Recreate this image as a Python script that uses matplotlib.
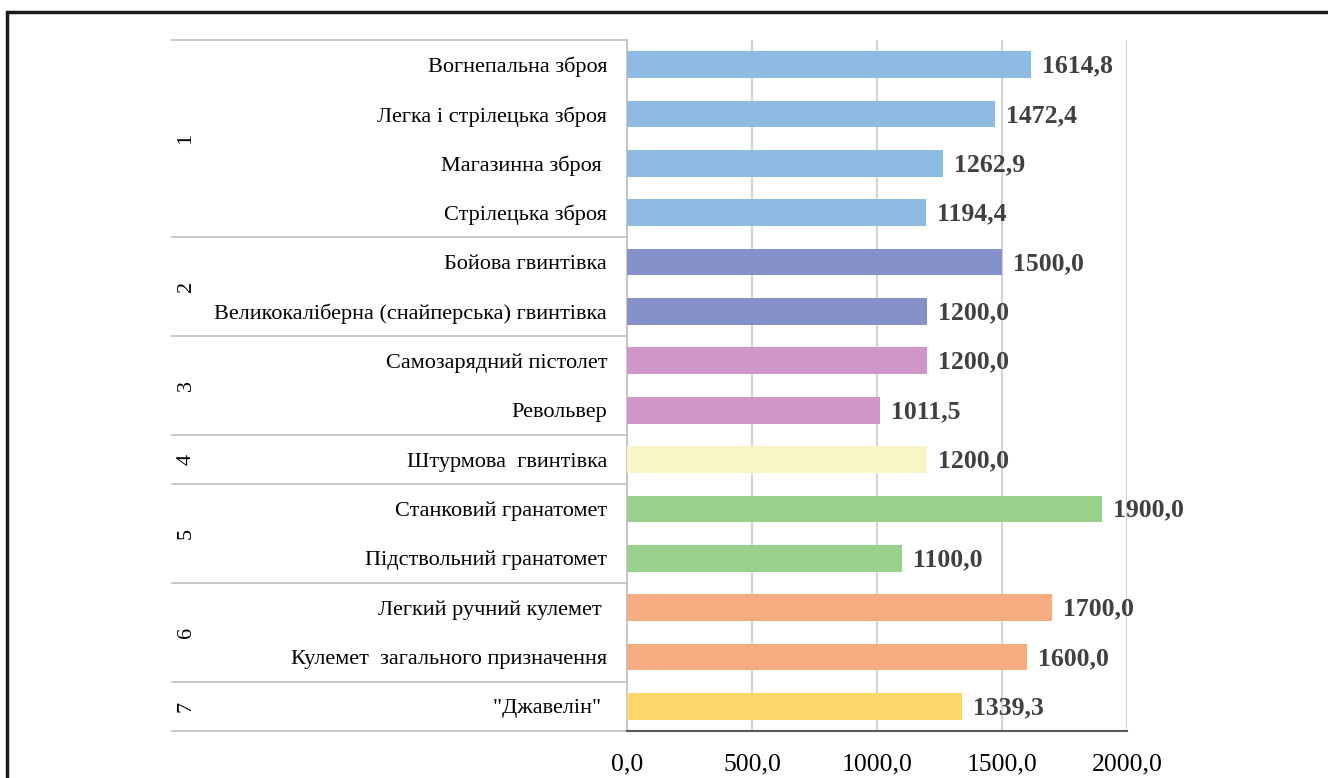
import matplotlib
matplotlib.use("Agg")
import matplotlib.pyplot as plt
import matplotlib.transforms as mtransforms
from matplotlib.patches import Rectangle


# =========================
# DATA
# =========================
labels = [
    "Вогнепальна зброя",
    "Легка і стрілецька зброя",
    "Магазинна зброя ",
    "Стрілецька зброя",
    "Бойова гвинтівка",
    "Великокаліберна (снайперська) гвинтівка",
    "Самозарядний пістолет",
    "Револьвер",
    "Штурмова  гвинтівка",
    "Станковий гранатомет",
    "Підствольний гранатомет",
    "Легкий ручний кулемет ",
    "Кулемет  загального призначення",
    "\"Джавелін\" ",
]
values = [1614.8, 1472.4, 1262.9, 1194.4, 1500.0, 1200.0, 1200.0,
          1011.5, 1200.0, 1900.0, 1100.0, 1700.0, 1600.0, 1339.3]
groups = ["1", "2", "3", "4", "5", "6", "7"]
group_sizes = [4, 2, 2, 1, 2, 2, 1]
group_colors = ["#8DBBE2", "#8591C8", "#CF96C8", "#F8F5C6",
                "#99D08B", "#F4AD80", "#FDD66A"]
x_ticks = [0, 500, 1000, 1500, 2000]

FONT = "Liberation Serif"

# =========================
# FIGURE
# =========================
fig = plt.figure(figsize=(13.28, 7.78), dpi=100)
ax = fig.add_axes([627 / 1328, 1 - 731 / 778, 500 / 1328, (731 - 40) / 778])

bar_colors = []
for c, n in zip(group_colors, group_sizes):
    bar_colors += [c] * n

ypos = list(range(len(labels)))
ax.barh(ypos, values, height=0.54, color=bar_colors, zorder=3)

ax.set_xlim(0, 2000)
ax.set_ylim(len(labels) - 0.5, -0.5)
ax.set_xticks(x_ticks)
ax.set_xticklabels([f"{t:.1f}".replace(".", ",") for t in x_ticks],
                   fontfamily=FONT, fontsize=18.5, color="#000000")
ax.tick_params(axis="x", length=0, pad=16)
ax.set_yticks([])
ax.grid(axis="x", color="#d4d4d4", linewidth=1.5, zorder=0)

for s in ["top", "right"]:
    ax.spines[s].set_visible(False)
ax.spines["left"].set_color("#bfbfbf")
ax.spines["left"].set_linewidth(1.2)
ax.spines["bottom"].set_color("#595959")
ax.spines["bottom"].set_linewidth(1.5)

# value labels
for y, v in zip(ypos, values):
    ax.annotate(f"{v:.1f}".replace(".", ","), (v, y), xytext=(8, -1),
                textcoords="offset points", va="center", ha="left",
                fontfamily=FONT, fontsize=18.5, fontweight="bold",
                color="#404040", zorder=5)

# category labels
trans = mtransforms.blended_transform_factory(ax.transAxes, ax.transData)
for y, lab in zip(ypos, labels):
    ax.text(-0.04, y + 0.05, lab, transform=trans, ha="right", va="center",
            fontfamily=FONT, fontsize=16, color="#000000")

# group separators and group labels
left_edge = (172 - 627) / 500
edges = [-0.5]
for n in group_sizes:
    edges.append(edges[-1] + n)
for e in edges:
    ax.plot([left_edge, 0], [e, e], transform=trans, color="#bfbfbf",
            linewidth=1.2, clip_on=False)
for g, a, b in zip(groups, edges[:-1], edges[1:]):
    ax.text((186 - 627) / 500, (a + b) / 2, g, transform=trans,
            rotation=90, ha="center", va="center",
            fontfamily=FONT, fontsize=16, color="#000000")

# outer frame
fig.add_artist(Rectangle((7 / 1328, -0.1), 1.2, 1 - 12 / 778 + 0.1,
                         transform=fig.transFigure, fill=False,
                         edgecolor="#1a1a1a", linewidth=2.5))

fig.savefig("out.png", dpi=100)
